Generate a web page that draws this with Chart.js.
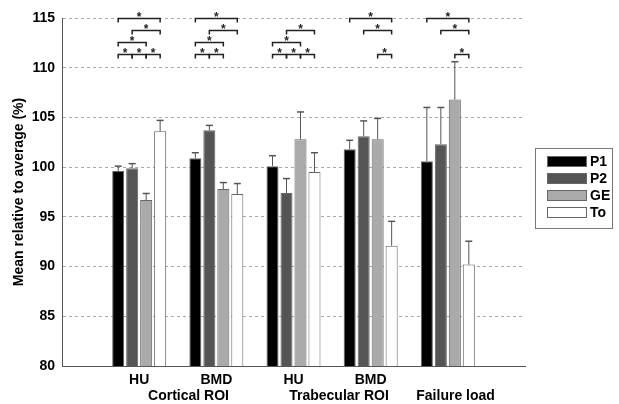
<!DOCTYPE html>
<html>
<head>
<meta charset="utf-8">
<script src="https://cdn.jsdelivr.net/npm/chart.js@4.4.1/dist/chart.umd.min.js"></script>
<style>
html,body{margin:0;padding:0;background:#fff;}
</style>
</head>
<body>
<canvas id="chart" width="619" height="404"></canvas>
<script>
// measures per group (x ticks), group captions on the 2nd line
const groups = ["HU", "BMD", "HU", "BMD", ""];
const captions = ["Cortical ROI", "Trabecular ROI", "Failure load"];
const captionAt = [1.64, 3.59, 5.1]; // position in category units

const series = ["P1", "P2", "GE", "To"];
const colors = ["#000000", "#555555", "#aaaaaa", "#ffffff"];

const p1 = [99.6, 100.9, 100.1, 101.8, 100.6];
const p2 = [99.9, 103.7, 97.4, 103.1, 102.3];
const ge = [96.7, 97.8, 102.8, 102.8, 106.8];
const to = [103.6, 97.3, 99.5, 92.1, 90.2];

const p1Err = [0.5, 0.55, 1.05, 0.9, 5.4];
const p2Err = [0.45, 0.5, 1.45, 1.55, 3.7];
const geErr = [0.65, 0.65, 2.75, 2.1, 3.8];
const toErr = [1.1, 1.05, 1.95, 2.45, 2.35];

const yTicks = [80, 85, 90, 95, 100, 105, 110, 115];

// significance brackets: [group, bar a, bar b, row]
const bracketRows = [111.4, 112.6, 113.8, 115.0];
const brackets = [
    [0,0,1,0],[0,1,2,0],[0,2,3,0],[0,0,2,1],[0,1,3,2],[0,0,3,3],
    [1,0,1,0],[1,1,2,0],[1,0,2,1],[1,1,3,2],[1,0,3,3],
    [2,0,1,0],[2,1,2,0],[2,2,3,0],[2,0,2,1],[2,1,3,2],
    [3,2,3,0],[3,1,3,2],[3,0,3,3],
    [4,2,3,0],[4,1,3,2],[4,0,3,3]
];

const values = [p1, p2, ge, to];
const errors = [p1Err, p2Err, geErr, toErr];

const labels = ["", ...groups, ""];
const pad = arr => [null, ...arr, null];

const font = "'Liberation Sans', Arial, Helvetica, sans-serif";

const extras = {
    id: "extras",
    afterDatasetsDraw(chart) {
        const ctx = chart.ctx;
        const y = chart.scales.y;
        const x = chart.scales.x;
        const area = chart.chartArea;
        ctx.save();

        // error bars (upper only)
        ctx.strokeStyle = "#555";
        values.forEach((vals, s) => {
            const meta = chart.getDatasetMeta(s);
            vals.forEach((v, g) => {
                const bar = meta.data[g + 1];
                const y0 = y.getPixelForValue(v);
                const y1 = y.getPixelForValue(v + errors[s][g]);
                ctx.lineWidth = 1;
                ctx.beginPath();
                ctx.moveTo(bar.x, y0);
                ctx.lineTo(bar.x, y1);
                ctx.stroke();
                ctx.lineWidth = 1.5;
                ctx.beginPath();
                ctx.moveTo(bar.x - 3.5, y1);
                ctx.lineTo(bar.x + 3.5, y1);
                ctx.stroke();
            });
        });

        // significance brackets
        ctx.strokeStyle = "#222";
        ctx.fillStyle = "#222";
        ctx.lineWidth = 1.5;
        ctx.font = "bold 12px " + font;
        ctx.textAlign = "center";
        ctx.textBaseline = "alphabetic";
        brackets.forEach(([g, a, b, row]) => {
            const xa = chart.getDatasetMeta(a).data[g + 1].x;
            const xb = chart.getDatasetMeta(b).data[g + 1].x;
            const yy = Math.round(y.getPixelForValue(bracketRows[row])) + 0.5;
            ctx.beginPath();
            ctx.moveTo(xa, yy + 4);
            ctx.lineTo(xa, yy);
            ctx.lineTo(xb, yy);
            ctx.lineTo(xb, yy + 4);
            ctx.stroke();
            ctx.fillText("*", (xa + xb) / 2, yy + 2.5);
        });

        // group captions
        ctx.fillStyle = "#000";
        ctx.font = "bold 14px " + font;
        ctx.textBaseline = "top";
        captions.forEach((c, i) => {
            const step = x.getPixelForValue(1) - x.getPixelForValue(0);
            const px = x.getPixelForValue(0) + captionAt[i] * step;
            ctx.fillText(c, px, area.bottom + 23);
        });

        // legend
        const lx = area.right + 10, ly = 148;
        ctx.strokeStyle = "#777";
        ctx.lineWidth = 1;
        ctx.strokeRect(lx + 0.5, ly + 0.5, 77, 80);
        ctx.textAlign = "left";
        ctx.textBaseline = "middle";
        series.forEach((s, i) => {
            const ty = ly + 8 + i * 17;
            ctx.fillStyle = colors[i];
            ctx.fillRect(lx + 12, ty, 40, 11);
            ctx.strokeStyle = "#666";
            ctx.strokeRect(lx + 12.5, ty + 0.5, 39, 10);
            ctx.fillStyle = "#000";
            ctx.fillText(s, lx + 55, ty + 6);
        });
        ctx.restore();
    }
};

new Chart(document.getElementById("chart"), {
    type: "bar",
    data: {
        labels,
        datasets: series.map((s, i) => ({
            label: s,
            data: pad(values[i]),
            backgroundColor: colors[i],
            borderColor: "#666",
            borderWidth: 1,
            categoryPercentage: 0.725,
            barPercentage: 0.86
        }))
    },
    options: {
        responsive: false,
        animation: false,
        devicePixelRatio: 1,
        layout: {padding: {top: 18, right: 94, left: 0, bottom: 0}},
        plugins: {legend: {display: false}, tooltip: {enabled: false}},
        scales: {
            x: {
                offset: false,
                grid: {display: false, drawTicks: false},
                border: {display: true, color: "#555", width: 1},
                ticks: {
                    color: "#000",
                    font: {family: font, size: 14, weight: "bold"},
                    padding: 6,
                    maxRotation: 0,
                    autoSkip: false
                },
                afterFit: s => { s.height = 38; }
            },
            y: {
                min: 80,
                max: 115,
                afterBuildTicks: s => { s.ticks = yTicks.map(v => ({value: v})); },
                grid: {color: "#aaa", lineWidth: 1, drawTicks: false},
                border: {display: true, color: "#555", width: 1, dash: [3, 3]},
                ticks: {
                    color: "#000",
                    font: {family: font, size: 14, weight: "bold"},
                    padding: 7
                },
                title: {
                    display: true,
                    text: "Mean relative to average (%)",
                    color: "#000",
                    font: {family: font, size: 14, weight: "bold"},
                    padding: {top: 11, bottom: 0}
                },
                afterFit: s => { s.width = 62; }
            }
        }
    },
    plugins: [extras]
});
</script>
</body>
</html>
